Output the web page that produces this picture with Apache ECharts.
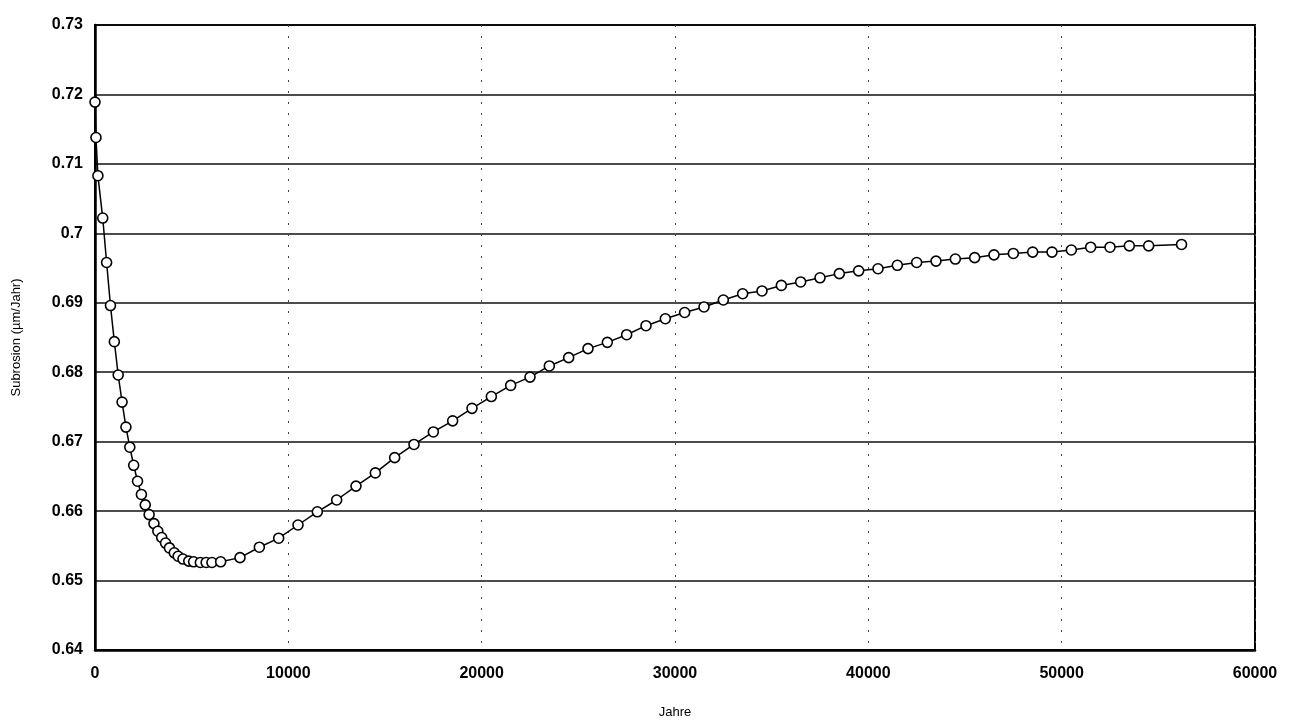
<!DOCTYPE html>
<html>
<head>
<meta charset="utf-8">
<script src="https://cdn.jsdelivr.net/npm/echarts@6/dist/echarts.min.js"></script>
<style>
html,body{margin:0;padding:0;background:#fff;}
#chart{width:1291px;height:724px;}
</style>
</head>
<body>
<div id="chart"></div>
<script>
// Years (x) and subrosion values (y)
const years = [0, 50, 150, 400, 600, 800, 1000, 1200, 1400, 1600, 1800, 2000, 2200, 2400, 2600, 2800,
  3050, 3250, 3450, 3650, 3850, 4100, 4300, 4550, 4850, 5100, 5450, 5750, 6050, 6500,
  7500, 8500, 9500, 10500, 11500, 12500, 13500, 14500, 15500, 16500, 17500, 18500, 19500, 20500,
  21500, 22500, 23500, 24500, 25500, 26500, 27500, 28500, 29500, 30500, 31500, 32500, 33500,
  34500, 35500, 36500, 37500, 38500, 39500, 40500, 41500, 42500, 43500, 44500, 45500, 46500,
  47500, 48500, 49500, 50500, 51500, 52500, 53500, 54500, 56200];
const subrosion = [0.7189, 0.7138, 0.7083, 0.7022, 0.6958, 0.6896, 0.6844, 0.6796, 0.6757, 0.6721,
  0.6692, 0.6666, 0.6643, 0.6624, 0.6609, 0.6595, 0.6582, 0.6571, 0.6562, 0.6554, 0.6547, 0.6540,
  0.6535, 0.6531, 0.6528, 0.6527, 0.6526, 0.6526, 0.6526, 0.6527,
  0.6533, 0.6548, 0.6561, 0.6580, 0.6599, 0.6616, 0.6636, 0.6655, 0.6677, 0.6696, 0.6714, 0.6730,
  0.6748, 0.6765, 0.6781, 0.6793, 0.6809, 0.6821, 0.6834, 0.6843, 0.6854, 0.6867, 0.6877, 0.6886,
  0.6894, 0.6904, 0.6913, 0.6917, 0.6925, 0.6930, 0.6936, 0.6942, 0.6946, 0.6949, 0.6954, 0.6958,
  0.6960, 0.6963, 0.6965, 0.6969, 0.6971, 0.6973, 0.6973, 0.6976, 0.6980, 0.6980, 0.6982, 0.6982,
  0.6984];
const xAxisName = 'Jahre';
const yAxisName = 'Subrosion (µm/Jahr)';

const data = years.map((x, i) => [x, subrosion[i]]);
const chart = echarts.init(document.getElementById('chart'));
const font = 'Liberation Sans, Arial, sans-serif';
chart.setOption({
  animation: false,
  backgroundColor: '#fff',
  grid: { left: 95, right: 36, top: 25, bottom: 71, show: true, borderColor: '#000', borderWidth: 2 },
  xAxis: {
    type: 'value', min: 0, max: 60000, interval: 10000,
    name: xAxisName, nameLocation: 'middle', nameGap: 56,
    nameTextStyle: { fontFamily: font, fontSize: 13, color: '#000' },
    axisLine: { lineStyle: { color: '#000', width: 2.5 } },
    axisTick: { show: false },
    axisLabel: { fontFamily: font, fontSize: 16, fontWeight: 'bold', color: '#000', margin: 16,
      formatter: v => String(Math.round(v)) },
    splitLine: { show: true, lineStyle: { color: '#444', width: 1, type: [2, 9] } }
  },
  yAxis: {
    type: 'value', min: 0.64, max: 0.73, interval: 0.01,
    name: yAxisName, nameLocation: 'middle', nameGap: 72,
    nameTextStyle: { fontFamily: font, fontSize: 13, color: '#000' },
    axisLine: { show: true, lineStyle: { color: '#000', width: 2.5 } },
    axisTick: { show: false },
    axisLabel: { fontFamily: font, fontSize: 16, fontWeight: 'bold', color: '#000', margin: 12,
      formatter: v => String(+v.toFixed(2)) },
    splitLine: { show: true, lineStyle: { color: '#111', width: 1.5 } }
  },
  series: [{
    type: 'line',
    data: data,
    symbol: 'circle', symbolSize: 10, showAllSymbol: true,
    lineStyle: { color: '#000', width: 1.5 },
    itemStyle: { color: '#fff', borderColor: '#000', borderWidth: 1.6 }
  }]
});
</script>
</body>
</html>
